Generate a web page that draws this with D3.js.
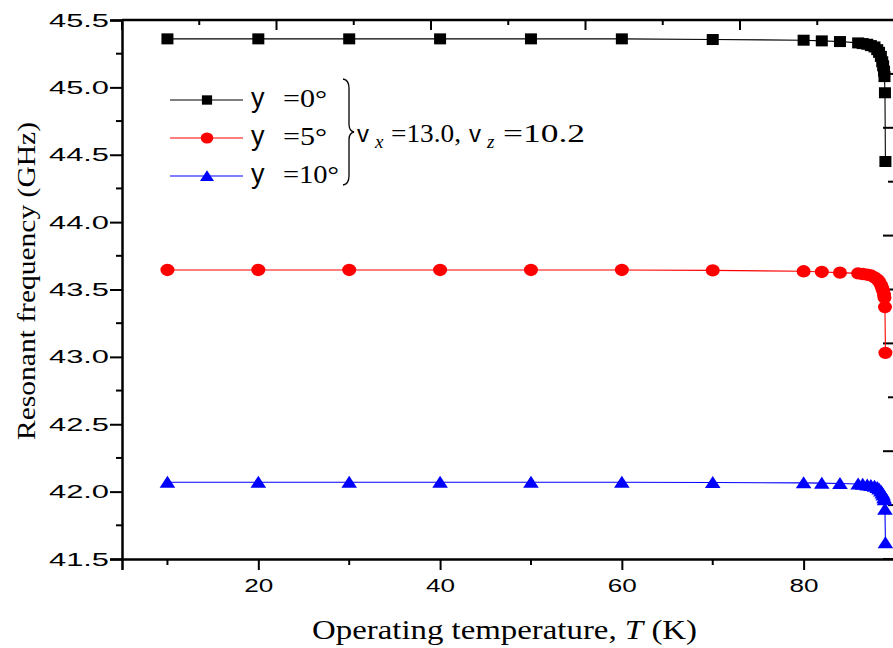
<!DOCTYPE html>
<html><head><meta charset="utf-8">
<script src="https://cdn.jsdelivr.net/npm/d3@7"></script>
<style>body{margin:0;background:#fff}svg{display:block}</style>
</head><body>
<script>
// ---- data ----
const temps = [10,20,30,40,50,60,70,80,82,84,86,86.5,87,87.4,87.8,88.1,88.3,88.5,88.65,88.75,88.85,88.9,88.95,89.0];
const freq0  = [45.36,45.36,45.36,45.36,45.36,45.36,45.355,45.35,45.345,45.34,45.33,45.325,45.32,45.31,45.30,45.28,45.26,45.23,45.19,45.16,45.12,45.08,44.96,44.45];
const freq5  = [43.645,43.645,43.645,43.645,43.645,43.645,43.642,43.635,43.63,43.625,43.62,43.615,43.61,43.605,43.59,43.575,43.56,43.535,43.51,43.49,43.46,43.44,43.37,43.03];
const freq10 = [42.07,42.07,42.07,42.07,42.07,42.07,42.068,42.065,42.063,42.06,42.057,42.055,42.05,42.045,42.04,42.03,42.02,42.005,41.99,41.975,41.955,41.94,41.87,41.62];
const seriesNames = ["y", "y", "y"];
const seriesLabels = ["=0°", "=5°", "=10°"];
const seriesColors = ["#000000", "#ff0000", "#0000ff"];
const seriesShapes = ["square", "circle", "triangle"];
const xTicks = [20,40,60,80];
const yTicks = [41.5,42.0,42.5,43.0,43.5,44.0,44.5,45.0,45.5];

const W = 893, H = 648;
const svg = d3.select("body").append("svg").attr("width", W).attr("height", H)
  .style("font-family", "'Liberation Sans', Arial, sans-serif");

const x = d3.scaleLinear().domain([5, 90]).range([122, 894.5]);
const y = d3.scaleLinear().domain([41.5, 45.5]).range([559, 20]);

const serif = "'Liberation Serif','Times New Roman',serif";

// ---- axes ----
const gx = svg.append("g").attr("transform", "translate(0,559)")
  .call(d3.axisBottom(x).tickValues(xTicks).tickSize(11).tickPadding(6).tickFormat(d3.format("d")));
svg.append("g").selectAll("line").data([10,30,50,70,90]).join("line")
  .attr("x1", d => x(d)).attr("x2", d => x(d)).attr("y1", 559).attr("y2", 565)
  .attr("stroke", "#000").attr("stroke-width", 2);

const gy = svg.append("g").attr("transform", "translate(122,0)")
  .call(d3.axisLeft(y).tickValues(yTicks).tickSize(12).tickPadding(4).tickFormat(d3.format(".1f")));
svg.append("g").selectAll("line").data(d3.range(41.75, 45.5, 0.5)).join("line")
  .attr("x1", 116).attr("x2", 122).attr("y1", d => y(d)).attr("y2", d => y(d))
  .attr("stroke", "#000").attr("stroke-width", 2);

[gx, gy].forEach(g => {
  g.select(".domain").attr("stroke-width", 2.5);
  g.selectAll(".tick line").attr("stroke-width", 2);
  g.selectAll(".tick text").attr("font-size", 19).attr("fill", "#000")
    .attr("font-family", "'Liberation Sans', Arial, sans-serif")
    .attr("lengthAdjust", "spacingAndGlyphs");
});
gx.selectAll(".tick text").attr("textLength", 29).attr("dy", "0.85em");
gy.selectAll(".tick text").attr("textLength", 60).attr("x", -13);

// top & right frame axes (secondary scales, no labels)
const topScale = d3.scaleLinear().domain([0, 5]).range([122, 894.5]);
const rightScale = d3.scaleLinear().domain([0, 5]).range([559, 20]);
svg.append("line").attr("x1", 122).attr("x2", 895).attr("y1", 20).attr("y2", 20)
  .attr("stroke", "#000").attr("stroke-width", 2.5);
svg.append("line").attr("x1", 894.5).attr("x2", 894.5).attr("y1", 20).attr("y2", 559)
  .attr("stroke", "#000").attr("stroke-width", 2.5);
svg.append("g").selectAll("line").data(d3.range(0, 5.01, 0.5)).join("line")
  .attr("x1", d => topScale(d)).attr("x2", d => topScale(d)).attr("y1", 20)
  .attr("y2", d => Number.isInteger(d) ? 30 : 25)
  .attr("stroke", "#000").attr("stroke-width", 2);
svg.append("g").selectAll("line").data(d3.range(0, 5.01, 0.5)).join("line")
  .attr("y1", d => rightScale(d)).attr("y2", d => rightScale(d)).attr("x1", 894.5)
  .attr("x2", d => Number.isInteger(d) ? 883 : 888)
  .attr("stroke", "#000").attr("stroke-width", 2);

// ---- markers ----
function marker(g, shape, cx, cy, color, s) {
  s = s || 1;
  if (shape === "square") {
    g.append("rect").attr("x", cx - 6*s).attr("y", cy - 5.5*s).attr("width", 12*s).attr("height", 11*s).attr("fill", color);
  } else if (shape === "circle") {
    g.append("ellipse").attr("cx", cx).attr("cy", cy).attr("rx", 7*s).attr("ry", 6.2*s).attr("fill", color);
  } else {
    g.append("path").attr("d", `M${cx},${cy-6.5*s}L${cx+7.8*s},${cy+5.5*s}L${cx-7.8*s},${cy+5.5*s}Z`).attr("fill", color);
  }
}

const allSeries = [freq0, freq5, freq10];
const line = d3.line().x(d => x(d[0])).y(d => y(d[1]));
allSeries.forEach((vals, i) => {
  const pts = temps.map((t, j) => [t, vals[j]]);
  const g = svg.append("g");
  g.append("path").datum(pts).attr("d", line).attr("fill", "none")
    .attr("stroke", seriesColors[i]).attr("stroke-width", 1.1);
  pts.forEach(p => marker(g, seriesShapes[i], x(p[0]), y(p[1]), seriesColors[i]));
});

// ---- legend ----
const legY = [100, 138, 176];
seriesNames.forEach((n, i) => {
  const g = svg.append("g");
  g.append("line").attr("x1", 170).attr("x2", 243).attr("y1", legY[i]).attr("y2", legY[i])
    .attr("stroke", seriesColors[i]).attr("stroke-width", 1.1);
  marker(g, seriesShapes[i], 207, legY[i], seriesColors[i], i === 0 ? 0.85 : 0.9);
  g.append("text").attr("x", 251).attr("y", legY[i] + 7).attr("font-size", 27)
    .attr("font-family", "'Liberation Sans', Arial, sans-serif").text(n);
  g.append("text").attr("x", 283).attr("y", legY[i] + 7).attr("font-size", 25)
    .attr("font-family", serif).attr("textLength", i === 2 ? 56 : 44)
    .attr("lengthAdjust", "spacingAndGlyphs").text(seriesLabels[i]);
});
// brace
svg.append("path")
  .attr("d", "M343,79 Q349,80 349,88 L349,124 Q349,131 354,132 Q349,133 349,140 L349,176 Q349,184 343,185")
  .attr("fill", "none").attr("stroke", "#000").attr("stroke-width", 1.3);
// parameters text
const pt = svg.append("g").attr("font-family", serif).attr("font-size", 25);
pt.append("text").attr("x", 357).attr("y", 142).attr("font-family", "'Liberation Sans', Arial, sans-serif").attr("font-size", 24).text("v");
pt.append("text").attr("x", 375).attr("y", 148).attr("font-style", "italic").attr("font-size", 19).text("x");
pt.append("text").attr("x", 391).attr("y", 142).attr("textLength", 70).attr("lengthAdjust", "spacingAndGlyphs").text("=13.0,");
pt.append("text").attr("x", 469).attr("y", 142).attr("font-family", "'Liberation Sans', Arial, sans-serif").attr("font-size", 24).text("v");
pt.append("text").attr("x", 487).attr("y", 148).attr("font-style", "italic").attr("font-size", 19).text("z");
pt.append("text").attr("x", 503).attr("y", 142).attr("textLength", 82).attr("lengthAdjust", "spacingAndGlyphs").text("=10.2");

// ---- axis titles ----
const xt = svg.append("text").attr("x", 312).attr("y", 639).attr("font-family", serif).attr("font-size", 27)
  .attr("textLength", 385).attr("lengthAdjust", "spacingAndGlyphs");
xt.append("tspan").text("Operating temperature, ");
xt.append("tspan").attr("font-style", "italic").text("T");
xt.append("tspan").text(" (K)");

svg.append("text").attr("transform", "translate(35,281) rotate(-90)").attr("text-anchor", "middle")
  .attr("font-family", serif).attr("font-size", 25).attr("textLength", 318)
  .attr("lengthAdjust", "spacingAndGlyphs").text("Resonant frequency (GHz)");
</script>
</body></html>
